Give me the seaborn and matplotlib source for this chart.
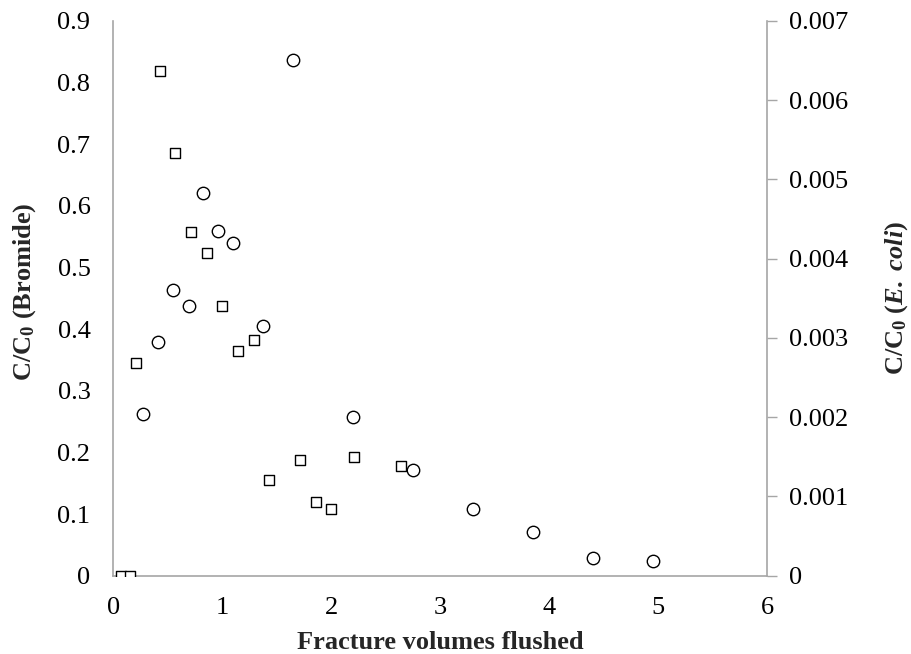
import matplotlib
matplotlib.use("Agg")
import matplotlib.pyplot as plt
import seaborn as sns
import pandas as pd

# Bromide tracer (left axis)
bromide_fv = [0.07, 0.15, 0.21, 0.43, 0.57, 0.71, 0.86, 1.00, 1.14, 1.29, 1.43, 1.71, 1.86, 2.00, 2.21, 2.64]
bromide_c = [0.0, 0.0, 0.345, 0.819, 0.686, 0.557, 0.523, 0.437, 0.365, 0.382, 0.155, 0.187, 0.120, 0.108, 0.193, 0.178]

# E. coli (right axis)
ecoli_fv = [0.27, 0.41, 0.55, 0.69, 0.82, 0.96, 1.10, 1.37, 1.65, 2.20, 2.75, 3.30, 3.85, 4.40, 4.95]
ecoli_c = [0.00204, 0.00295, 0.00360, 0.00340, 0.00483, 0.00435, 0.00420, 0.00315, 0.00651,
           0.00200, 0.00133, 0.00084, 0.00055, 0.00022, 0.00018]

x_ticks = [0, 1, 2, 3, 4, 5, 6]
left_ticks = [0, 0.1, 0.2, 0.3, 0.4, 0.5, 0.6, 0.7, 0.8, 0.9]
left_labels = ["0", "0.1", "0.2", "0.3", "0.4", "0.5", "0.6", "0.7", "0.8", "0.9"]
right_ticks = [0, 0.001, 0.002, 0.003, 0.004, 0.005, 0.006, 0.007]
right_labels = ["0", "0.001", "0.002", "0.003", "0.004", "0.005", "0.006", "0.007"]

sns.set_theme(style="white")
plt.rcParams["font.family"] = ["Liberation Serif", "DejaVu Serif"]
plt.rcParams["mathtext.fontset"] = "custom"
plt.rcParams["mathtext.rm"] = "Liberation Serif"
plt.rcParams["mathtext.it"] = "Liberation Serif:italic"
plt.rcParams["mathtext.bf"] = "Liberation Serif:bold"
plt.rcParams["mathtext.bfit"] = "Liberation Serif:bold:italic"

bro = pd.DataFrame({"fv": bromide_fv, "c": bromide_c})
eco = pd.DataFrame({"fv": ecoli_fv, "c": ecoli_c})

fig = plt.figure(figsize=(9.12, 6.54), dpi=100)
ax = fig.add_axes([0.1243, 0.1197, 0.8413 - 0.1243, 0.9679 - 0.1197])
ax2 = ax.twinx()
ax2.set_position(ax.get_position())

spine_col = "#a6a6a6"
fs = 19

sns.scatterplot(data=bro, x="fv", y="c", ax=ax, marker="s", s=62,
                facecolor="white", edgecolor="black", linewidth=1.0, zorder=3)
sns.scatterplot(data=eco, x="fv", y="c", ax=ax2, marker="o", s=80,
                facecolor="white", edgecolor="black", linewidth=1.0, zorder=3)

ax.set_xlim(0, 6)
ax.set_ylim(0, 0.9)
ax2.set_ylim(0, 0.007)

ax.set_xticks(x_ticks)
ax.set_xticklabels([str(t) for t in x_ticks], fontsize=fs)
ax.set_yticks(left_ticks)
ax.set_yticklabels(left_labels, fontsize=fs)
ax2.set_yticks(right_ticks)
ax2.set_yticklabels(right_labels, fontsize=fs)

ax.tick_params(axis="x", length=0, pad=15.5, colors="black")
ax.tick_params(axis="y", length=0, pad=16.5, colors="black")
ax2.tick_params(axis="y", length=7, width=1, color=spine_col, pad=9, labelcolor="black", direction="out")

for a in (ax, ax2):
    a.spines["top"].set_visible(False)
    for side in ("left", "right", "bottom"):
        a.spines[side].set_color(spine_col)
        a.spines[side].set_linewidth(1.2)
ax.spines["right"].set_visible(False)
ax2.spines["left"].set_visible(False)
ax2.spines["bottom"].set_visible(False)

ax.set_xlabel("Fracture volumes flushed", fontsize=fs, fontweight="bold", labelpad=8.5)
ax.set_ylabel(r"$\mathbf{C/C_0}$ (Bromide)", fontsize=fs, fontweight="bold", labelpad=14)
ax.yaxis.label.set_y(0.512)
ax2.set_ylabel(r"$\mathbf{C/C_0\ (}\mathbfit{E.\ coli}\mathbf{)}$", fontsize=fs, labelpad=25)

ax.grid(False)
ax2.grid(False)

fig.savefig("out.png", dpi=100)
